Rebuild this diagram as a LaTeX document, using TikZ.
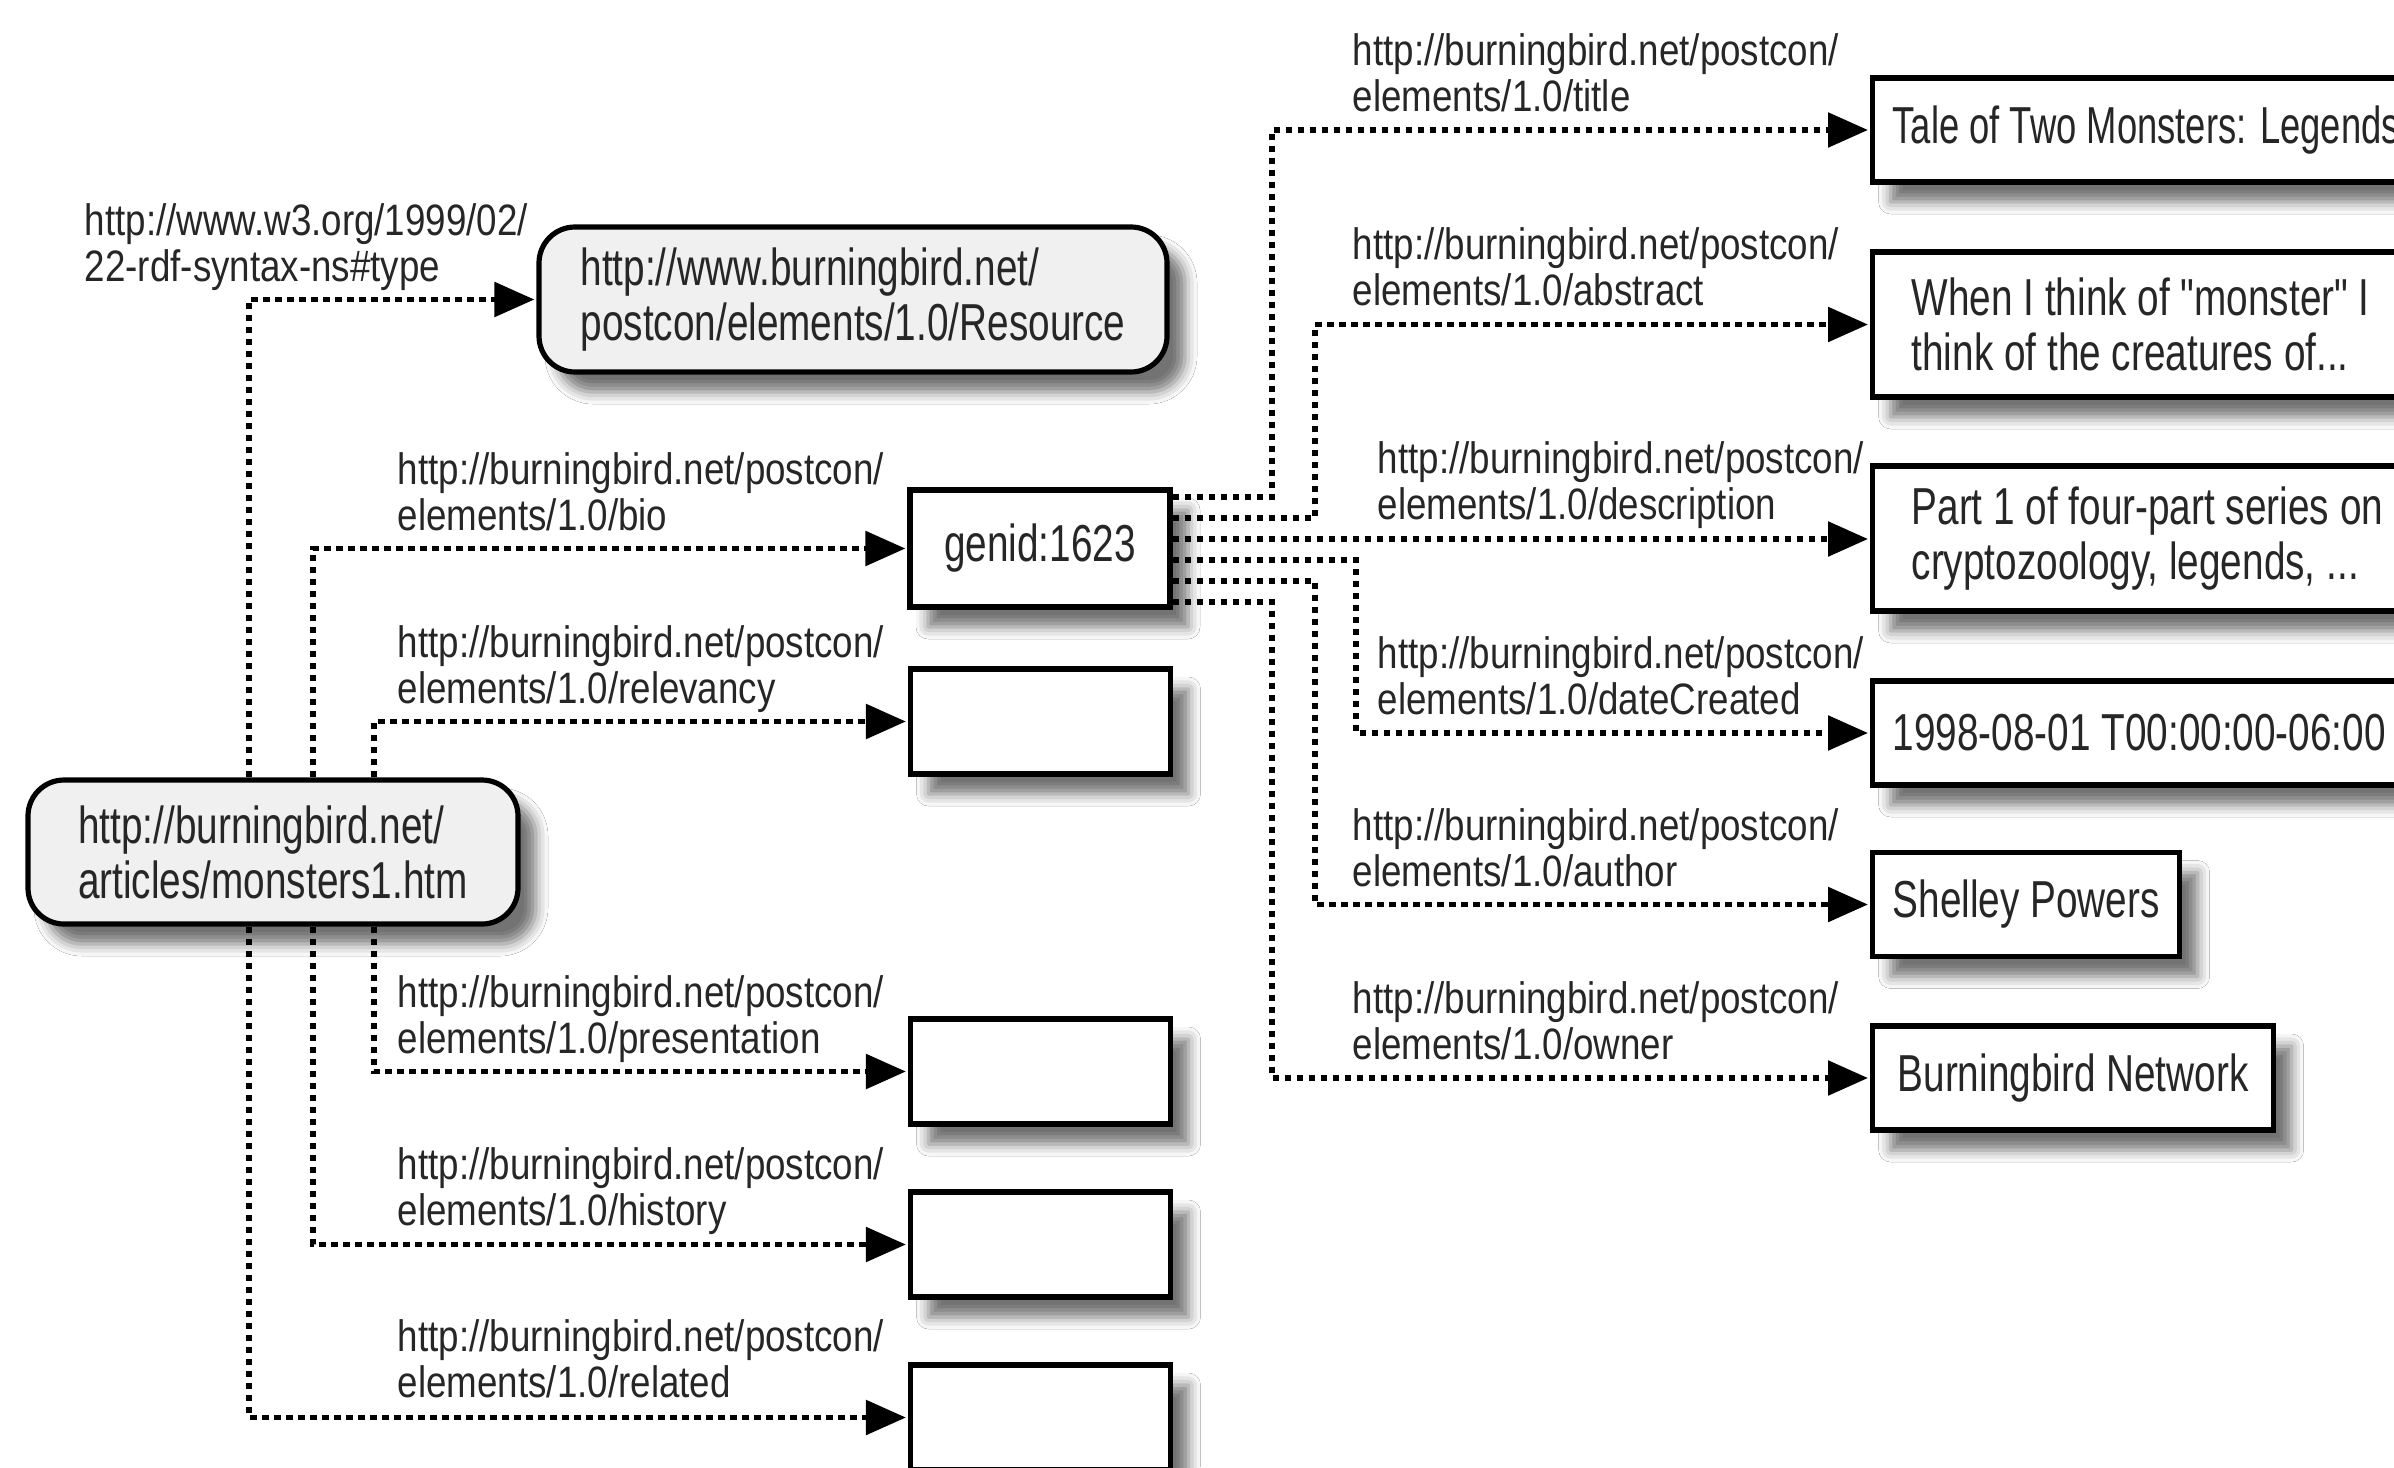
\documentclass[tikz,border=0pt]{standalone}
\usepackage{fontspec}
\setmainfont{Liberation Sans}
\newfontfamily\boxfont[FakeStretch=0.745]{Liberation Sans}
\newfontfamily\narrowboxfont[FakeStretch=0.70]{Liberation Sans}
\newfontfamily\predfont[FakeStretch=0.835]{Liberation Sans}
\usetikzlibrary{arrows.meta,shadows.blur,calc}

\tikzset{
  pred/.style={anchor=north west, inner sep=0pt, align=left, text=black!85,
    font=\predfont\fontsize{11}{11.5}\selectfont},
  nodebox/.style={draw=black, line width=1.3pt, inner sep=0pt, text=black!85,
    font=\boxfont\fontsize{13}{13.75}\selectfont,
    blur shadow={shadow xshift=4.5pt, shadow yshift=-5pt,
      shadow blur radius=3pt, shadow opacity=55}},
  uri/.style={nodebox, rounded corners=9pt, fill=black!6, align=left},
  lit/.style={nodebox, fill=white, align=left},
  litw/.style={lit, anchor=west, minimum height=26pt, inner xsep=5pt},
  litww/.style={lit, anchor=west, minimum height=36.25pt, inner xsep=9.75pt},
  link/.style={black, line width=1.4pt, dash pattern=on 1.6pt off 1.4pt,
    -{Triangle[length=10pt,width=8.5pt]}, shorten >=0.5pt},
}

\begin{document}
\begin{tikzpicture}[x=0.25pt, y=-0.25pt]
\useasboundingbox (0,0) rectangle (2394,1467);
\fill[white] (0,0) rectangle (2394,1467);
\clip (0,0) rectangle (2394,1467);

% resources
\node[uri, minimum width=157pt, minimum height=36.25pt] (rdfres) at (853,299.5)
  {http://www.burningbird.net/\\postcon/elements/1.0/Resource};
\node[uri, minimum width=122.5pt, minimum height=36pt] (doc) at (273,852)
  {http://burningbird.net/\\articles/monsters1.htm};

% blank node and empty values
\node[lit, minimum width=65pt, minimum height=29.25pt] (bio) at (1040,548.5) {genid:1623};
\node[lit, minimum width=65pt, minimum height=26.25pt] (relv) at (1040.5,721.5) {};
\node[lit, minimum width=65pt, minimum height=26.25pt] (pres) at (1040.5,1071.5) {};
\node[lit, minimum width=65pt, minimum height=26.25pt] (hist) at (1040.5,1244.5) {};
\node[lit, minimum width=65pt, minimum height=26.25pt] (relt) at (1040.5,1417.5) {};

% literal values of the blank node
\node[litw, font=\narrowboxfont\fontsize{13}{13.75}\selectfont] (title) at (1870,130)
  {Tale of Two Monsters: Legends};
\node[litww] (abs) at (1870,324.5) {When I think of "monster" I\\think of the creatures of...};
\node[litww] (desc) at (1870,538.5) {Part 1 of four-part series on\\cryptozoology, legends, ...};
\node[litw] (date) at (1870,733) {1998-08-01 T00:00:00-06:00};
\node[litw, minimum width=73.5pt] (author) at (1870,904.5) {Shelley Powers};
\node[litw, minimum width=100.25pt] (owner) at (1870,1078) {Burningbird Network};

% predicate labels
\node[pred] (p-type) at (84,203) {http://www.w3.org/1999/02/\\22-rdf-syntax-ns\#type};
\node[pred] (p-bio) at (397,452) {http://burningbird.net/postcon/\\elements/1.0/bio};
\node[pred] (p-relv) at (397,625) {http://burningbird.net/postcon/\\elements/1.0/relevancy};
\node[pred] (p-pres) at (397,975) {http://burningbird.net/postcon/\\elements/1.0/presentation};
\node[pred] (p-hist) at (397,1147) {http://burningbird.net/postcon/\\elements/1.0/history};
\node[pred] (p-relt) at (397,1319) {http://burningbird.net/postcon/\\elements/1.0/related};
\node[pred] (p-title) at (1352,33) {http://burningbird.net/postcon/\\elements/1.0/title};
\node[pred] (p-abs) at (1352,227) {http://burningbird.net/postcon/\\elements/1.0/abstract};
\node[pred] (p-desc) at (1377,441) {http://burningbird.net/postcon/\\elements/1.0/description};
\node[pred] (p-date) at (1377,636) {http://burningbird.net/postcon/\\elements/1.0/dateCreated};
\node[pred] (p-auth) at (1352,808) {http://burningbird.net/postcon/\\elements/1.0/author};
\node[pred] (p-own) at (1352,981) {http://burningbird.net/postcon/\\elements/1.0/owner};

% routing columns
\coordinate (xa) at (249,0);
\coordinate (xb) at (313,0);
\coordinate (xc) at (374,0);
\coordinate (xd) at (1272,0);
\coordinate (xe) at (1315,0);
\coordinate (xf) at (1356,0);

% taps on the right side of the blank node
\coordinate (g1) at ($(bio.east)+(0,-51.5)$);
\coordinate (g2) at ($(bio.east)+(0,-30.5)$);
\coordinate (g3) at ($(bio.east)+(0,-9.5)$);
\coordinate (g4) at ($(bio.east)+(0,11.5)$);
\coordinate (g5) at ($(bio.east)+(0,32.5)$);
\coordinate (g6) at ($(bio.east)+(0,53.5)$);

% statements about the document
\draw[link] (xa |- doc.north) |- (rdfres.west);
\draw[link] (xb |- doc.north) |- (bio.west);
\draw[link] (xc |- doc.north) |- (relv.west);
\draw[link] (xc |- doc.south) |- (pres.west);
\draw[link] (xb |- doc.south) |- (hist.west);
\draw[link] (xa |- doc.south) |- (relt.west);

% statements about the blank node
\draw[link] (g1) -| (xd |- title.west) -- (title.west);
\draw[link] (g2) -| (xe |- abs.west) -- (abs.west);
\draw[link] (g3) -- (g3 -| desc.west);
\draw[link] (g4) -| (xf |- date.west) -- (date.west);
\draw[link] (g5) -| (xe |- author.west) -- (author.west);
\draw[link] (g6) -| (xd |- owner.west) -- (owner.west);
\end{tikzpicture}
\end{document}
